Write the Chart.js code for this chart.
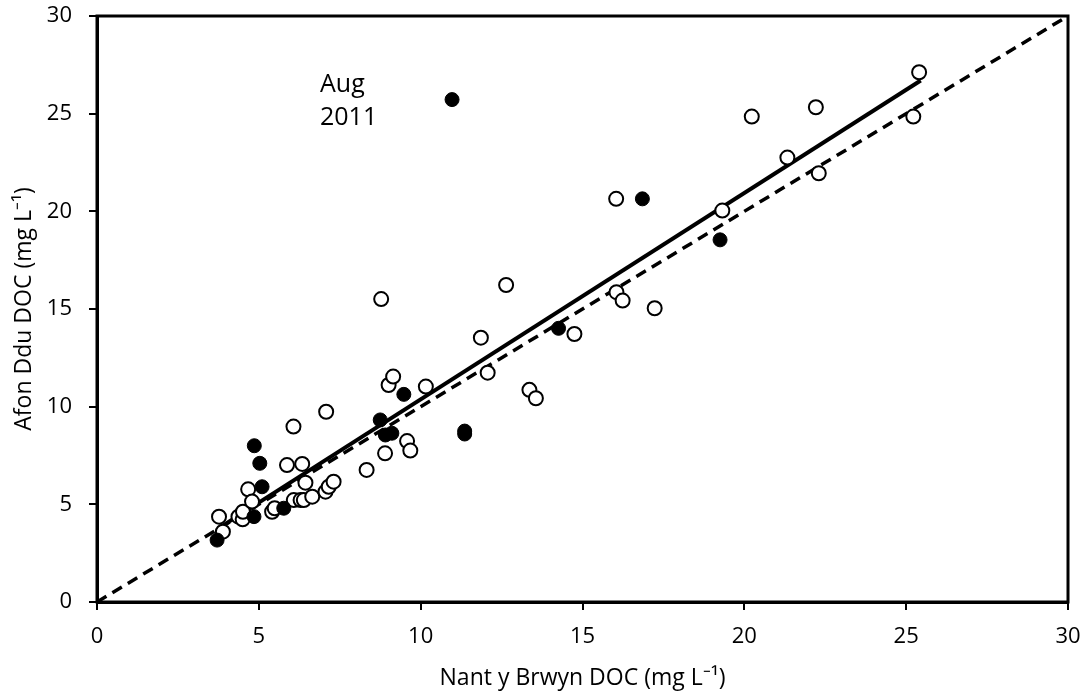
<!DOCTYPE html>
<html>
<head>
<meta charset="utf-8">
<script src="https://cdn.jsdelivr.net/npm/chart.js@4"></script>
<style>
  html, body { margin: 0; padding: 0; background: #fff; }
  #wrap { width: 1085px; height: 693px; }
</style>
</head>
<body>
<div id="wrap"><canvas id="chart"></canvas></div>
<script>
// open circles (Nant y Brwyn, Afon Ddu)
var openX = [3.77, 3.89, 4.37, 4.50, 4.51, 4.67, 4.79, 5.41, 5.49, 5.87, 6.07, 6.08, 6.29, 6.34, 6.39, 6.44, 6.65, 7.08, 7.06, 7.16, 7.31, 8.33, 8.78, 8.90, 9.01, 9.15, 9.58, 9.68, 10.16, 11.86, 12.07, 12.64, 13.36, 13.56, 14.75, 16.04, 16.05, 16.24, 17.23, 19.32, 20.23, 21.33, 22.21, 22.30, 25.22, 25.40];
var openY = [4.37, 3.60, 4.37, 4.23, 4.62, 5.77, 5.14, 4.62, 4.80, 7.01, 8.98, 5.22, 5.22, 7.07, 5.22, 6.11, 5.39, 9.74, 5.65, 5.90, 6.16, 6.76, 15.51, 7.61, 11.11, 11.54, 8.24, 7.75, 11.03, 13.53, 11.74, 16.23, 10.86, 10.43, 13.72, 20.64, 15.86, 15.43, 15.04, 20.04, 24.85, 22.75, 25.33, 21.95, 24.85, 27.12];

// filled circles
var fillX = [3.71, 4.85, 4.86, 5.03, 5.10, 5.77, 8.75, 8.91, 9.11, 9.48, 10.97, 11.36, 11.36, 14.26, 16.85, 19.25];
var fillY = [3.17, 4.37, 8.00, 7.10, 5.90, 4.80, 9.32, 8.55, 8.64, 10.63, 25.72, 8.75, 8.60, 14.01, 20.64, 18.54];

// regression line ends and 1:1 line
var fitX = [3.75, 25.45];
var fitY = [3.77, 26.70];
var oneX = [0, 30];
var oneY = [0, 30];

var xTicks = [0, 5, 10, 15, 20, 25, 30];
var yTicks = [0, 5, 10, 15, 20, 25, 30];

var noteLines = ['Aug', '2011'];

var FONT = "'Open Sans', 'Liberation Sans', sans-serif";

function pts(xs, ys) {
  return xs.map(function (x, i) { return { x: x, y: ys[i] }; });
}

// frame on top and right, and the Aug 2011 note
var extras = {
  id: 'extras',
  afterDraw: function (chart) {
    var ctx = chart.ctx;
    var a = chart.chartArea;
    ctx.save();
    ctx.strokeStyle = '#000';
    ctx.lineWidth = 3;
    ctx.strokeRect(a.left, a.top, a.right - a.left, a.bottom - a.top);
    ctx.fillStyle = '#000';
    ctx.font = '25px ' + FONT;
    ctx.textAlign = 'left';
    ctx.textBaseline = 'middle';
    var px = chart.scales.x.getPixelForValue(6.89);
    ctx.fillText(noteLines[0], px, chart.scales.y.getPixelForValue(26.45));
    ctx.fillText(noteLines[1], px, chart.scales.y.getPixelForValue(24.81));
    ctx.restore();
  }
};

new Chart(document.getElementById('chart'), {
  type: 'scatter',
  data: {
    datasets: [
      {
        label: 'open',
        data: pts(openX, openY),
        pointRadius: 7,
        pointBackgroundColor: '#fff',
        pointBorderColor: '#000',
        pointBorderWidth: 2,
        order: 1
      },
      {
        label: 'filled',
        data: pts(fillX, fillY),
        pointRadius: 7,
        pointBackgroundColor: '#000',
        pointBorderColor: '#000',
        pointBorderWidth: 1,
        order: 0
      },
      {
        label: 'fit',
        data: pts(fitX, fitY),
        showLine: true,
        borderColor: '#000',
        borderWidth: 4,
        pointRadius: 0,
        order: 3
      },
      {
        label: '1:1',
        data: pts(oneX, oneY),
        showLine: true,
        borderColor: '#000',
        borderWidth: 3.5,
        borderDash: [11, 7],
        pointRadius: 0,
        order: 4
      }
    ]
  },
  options: {
    responsive: true,
    maintainAspectRatio: false,
    animation: false,
    layout: { padding: { top: 16, right: 17, left: 0, bottom: 0 } },
    plugins: { legend: { display: false }, tooltip: { enabled: false } },
    scales: {
      x: {
        type: 'linear',
        min: 0,
        max: 30,
        afterFit: function (s) { s.height = 91; s.paddingLeft = 0; s.paddingRight = 0; },
        afterBuildTicks: function (s) { s.ticks = xTicks.map(function (v) { return { value: v }; }); },
        border: { color: '#000', width: 3 },
        grid: { drawOnChartArea: false, drawTicks: true, tickLength: 8, color: '#000', lineWidth: 2 },
        ticks: { color: '#000', padding: 14, font: { family: FONT, size: 22 } },
        title: {
          display: true,
          text: 'Nant y Brwyn DOC (mg L⁻¹)',
          color: '#000',
          font: { family: FONT, size: 23 },
          padding: { top: 0, bottom: 1 }
        }
      },
      y: {
        type: 'linear',
        min: 0,
        max: 30,
        afterFit: function (s) { s.width = 97; s.paddingTop = 0; s.paddingBottom = 0; },
        afterBuildTicks: function (s) { s.ticks = yTicks.map(function (v) { return { value: v }; }); },
        border: { color: '#000', width: 3 },
        grid: { drawOnChartArea: false, drawTicks: true, tickLength: 8, color: '#000', lineWidth: 2 },
        ticks: { color: '#000', padding: 17, font: { family: FONT, size: 22 } },
        title: {
          display: true,
          text: 'Afon Ddu DOC (mg L⁻¹)',
          color: '#000',
          font: { family: FONT, size: 23 },
          padding: { top: 11, bottom: 0 }
        }
      }
    }
  },
  plugins: [extras]
});
</script>
</body>
</html>
